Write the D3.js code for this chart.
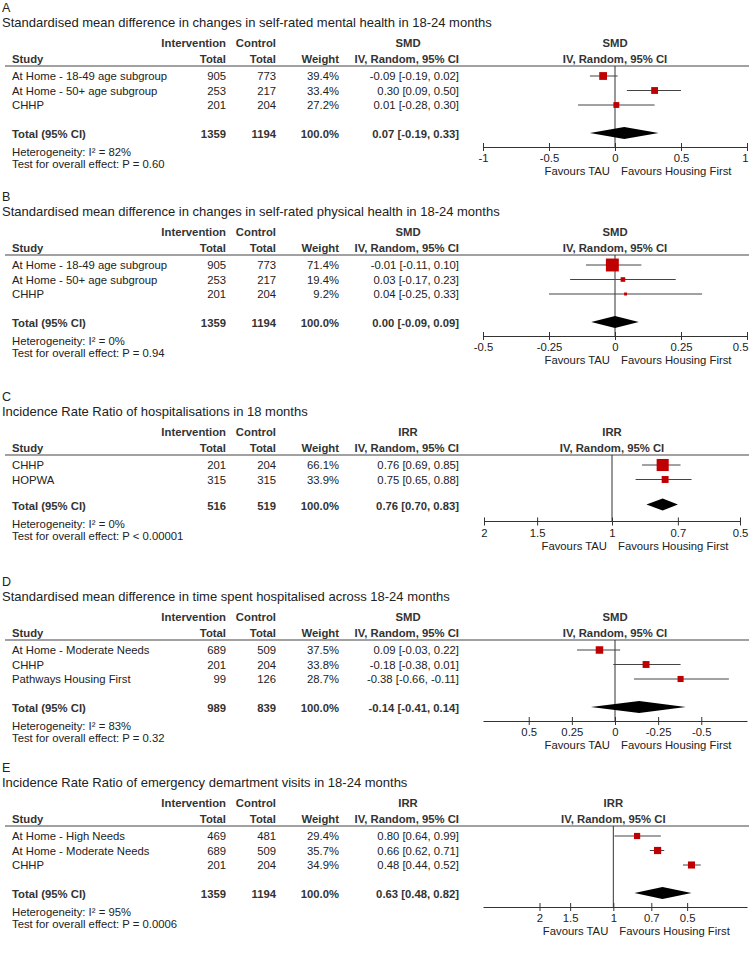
<!DOCTYPE html>
<html><head><meta charset="utf-8">
<script src="https://cdn.jsdelivr.net/npm/d3@7"></script>
<style>
body{margin:0;background:#fff;}
text{font-family:"Liberation Sans",Arial,sans-serif;fill:#222;}
</style>
</head><body>
<svg id="chart" width="749" height="954"></svg>
<script>
// ---------- data ----------
const panelLetters = ["A", "B", "C", "D", "E"];
const panelTitles = [
  "Standardised mean difference in changes in self-rated mental health in 18-24 months",
  "Standardised mean difference in changes in self-rated physical health in 18-24 months",
  "Incidence Rate Ratio of hospitalisations in 18 months",
  "Standardised mean difference in time spent hospitalised across 18-24 months",
  "Incidence Rate Ratio of emergency demartment visits in 18-24 months"
];
const effectNames = ["SMD", "SMD", "IRR", "SMD", "IRR"];

const studiesA = ["At Home - 18-49 age subgroup", "At Home - 50+ age subgroup", "CHHP"];
const intA = [905, 253, 201];
const ctlA = [773, 217, 204];
const weightA = [39.4, 33.4, 27.2];
const estA = [-0.09, 0.30, 0.01];
const loA = [-0.19, 0.09, -0.28];
const hiA = [0.02, 0.50, 0.30];

const studiesB = ["At Home - 18-49 age subgroup", "At Home - 50+ age subgroup", "CHHP"];
const intB = [905, 253, 201];
const ctlB = [773, 217, 204];
const weightB = [71.4, 19.4, 9.2];
const estB = [-0.01, 0.03, 0.04];
const loB = [-0.11, -0.17, -0.25];
const hiB = [0.10, 0.23, 0.33];

const studiesC = ["CHHP", "HOPWA"];
const intC = [201, 315];
const ctlC = [204, 315];
const weightC = [66.1, 33.9];
const estC = [0.76, 0.75];
const loC = [0.69, 0.65];
const hiC = [0.85, 0.88];

const studiesD = ["At Home - Moderate Needs", "CHHP", "Pathways Housing First"];
const intD = [689, 201, 99];
const ctlD = [509, 204, 126];
const weightD = [37.5, 33.8, 28.7];
const estD = [0.09, -0.18, -0.38];
const loD = [-0.03, -0.38, -0.66];
const hiD = [0.22, 0.01, -0.11];

const studiesE = ["At Home - High Needs", "At Home - Moderate Needs", "CHHP"];
const intE = [469, 689, 201];
const ctlE = [481, 509, 204];
const weightE = [29.4, 35.7, 34.9];
const estE = [0.80, 0.66, 0.48];
const loE = [0.64, 0.62, 0.44];
const hiE = [0.99, 0.71, 0.52];

const totalInt = [1359, 1359, 516, 989, 1359];
const totalCtl = [1194, 1194, 519, 839, 1194];
const totalEst = [0.07, 0.00, 0.76, -0.14, 0.63];
const totalLo = [-0.19, -0.09, 0.70, -0.41, 0.48];
const totalHi = [0.33, 0.09, 0.83, 0.14, 0.82];
const heterogeneity = ["82%", "0%", "0%", "83%", "95%"];
const overallP = ["P = 0.60", "P = 0.94", "P < 0.00001", "P = 0.32", "P = 0.0006"];

const ticksA = [-1, -0.5, 0, 0.5, 1];
const ticksB = [-0.5, -0.25, 0, 0.25, 0.5];
const ticksC = [2, 1.5, 1, 0.7, 0.5];
const ticksD = [0.5, 0.25, 0, -0.25, -0.5];
const ticksE = [2, 1.5, 1, 0.7, 0.5];

// ---------- layout ----------
const panelTop = [0, 189, 389, 574, 760];
const FS = 11.3;
const colStudy = 12, colInt = 226, colCtl = 276, colWt = 339, colCI = 459, colCIhead = 408;
const lineY = 66;
const W = 749;

const scales = [
  d3.scaleLinear().domain([-1, 1]).range([483, 747]),
  d3.scaleLinear().domain([-0.5, 0.5]).range([483, 747]),
  d3.scaleLog().domain([2, 0.5]).range([484, 740]),
  d3.scaleLinear().domain([0.765, -0.765]).range([483, 747]),
  d3.scaleLog().domain([3.4, 0.285]).range([483, 747])
];
const nullValue = [0, 0, 1, 0, 1];

const panels = [
  {studies: studiesA, int: intA, ctl: ctlA, w: weightA, est: estA, lo: loA, hi: hiA, ticks: ticksA},
  {studies: studiesB, int: intB, ctl: ctlB, w: weightB, est: estB, lo: loB, hi: hiB, ticks: ticksB},
  {studies: studiesC, int: intC, ctl: ctlC, w: weightC, est: estC, lo: loC, hi: hiC, ticks: ticksC},
  {studies: studiesD, int: intD, ctl: ctlD, w: weightD, est: estD, lo: loD, hi: hiD, ticks: ticksD},
  {studies: studiesE, int: intE, ctl: ctlE, w: weightE, est: estE, lo: loE, hi: hiE, ticks: ticksE}
];

const loc = d3.formatLocale({decimal: ".", thousands: ",", grouping: [3], currency: ["", ""], minus: "-"});
const f2 = loc.format(".2f");
const f1 = loc.format(".1f");
const ciText = (e, l, h) => `${f2(e)} [${f2(l)}, ${f2(h)}]`;

const rowY = d3.scaleLinear().domain([0, 1]).range([76, 90.5]);
const sqSize = d3.scaleLinear().domain([0, 100]).range([1.5, 17.5]);

const svg = d3.select("#chart");

panels.forEach((p, k) => {
  const g = svg.append("g").attr("transform", `translate(0,${panelTop[k]})`);
  const x = scales[k];
  const n = p.studies.length;
  const totalY = rowY(n - 1) + (n < 3 ? 26 : 29);
  const axisY = rowY(n - 1) + 42;
  const x0 = x(nullValue[k]);

  const txt = (s, xx, yy, anchor, bold, size) => g.append("text")
    .attr("x", xx).attr("y", yy).attr("text-anchor", anchor || "start")
    .attr("font-size", size || FS).attr("font-weight", bold ? "bold" : "normal")
    .style("fill", bold ? "#333" : "#222").text(s);

  txt(panelLetters[k], 2, 11.5, "start", false, 12.5);
  txt(panelTitles[k], 2, 26.5, "start", false, 13);

  // headers
  txt("Intervention", colInt, 47, "end", true);
  txt("Control", colCtl, 47, "end", true);
  txt(effectNames[k], colCIhead, 47, "middle", true);
  txt("Study", colStudy, 63, "start", true);
  txt("Total", colInt, 63, "end", true);
  txt("Total", colCtl, 63, "end", true);
  txt("Weight", colWt, 63, "end", true);
  txt("IV, Random, 95% CI", colCI, 63, "end", true);
  txt(effectNames[k], x0, 47, "middle", true);
  txt("IV, Random, 95% CI", x0, 63, "middle", true);

  g.append("line").attr("x1", 5).attr("x2", W).attr("y1", lineY).attr("y2", lineY)
    .attr("stroke", "#444").attr("stroke-width", 1.2);

  // study rows
  p.studies.forEach((s, i) => {
    const yb = rowY(i) + 4;
    txt(s, colStudy, yb);
    txt(String(p.int[i]), colInt, yb, "end");
    txt(String(p.ctl[i]), colCtl, yb, "end");
    txt(f1(p.w[i]) + "%", colWt, yb, "end");
    txt(ciText(p.est[i], p.lo[i], p.hi[i]), colCI, yb, "end");
  });

  // total row
  txt("Total (95% CI)", colStudy, totalY + 4, "start", true);
  txt(String(totalInt[k]), colInt, totalY + 4, "end", true);
  txt(String(totalCtl[k]), colCtl, totalY + 4, "end", true);
  txt("100.0%", colWt, totalY + 4, "end", true);
  txt(ciText(totalEst[k], totalLo[k], totalHi[k]), colCI, totalY + 4, "end", true);
  txt("Heterogeneity: I\u00B2 = " + heterogeneity[k], colStudy, totalY + 22);
  txt("Test for overall effect: " + overallP[k], colStudy, totalY + 34);

  // null line
  g.append("line").attr("x1", x0).attr("x2", x0).attr("y1", lineY).attr("y2", axisY)
    .attr("stroke", "#333").attr("stroke-width", 1);

  // CIs and squares
  const idx = d3.range(n);
  g.selectAll("line.ci").data(idx).join("line").attr("class", "ci")
    .attr("x1", i => x(p.lo[i])).attr("x2", i => x(p.hi[i]))
    .attr("y1", i => rowY(i)).attr("y2", i => rowY(i))
    .attr("stroke", "#444").attr("stroke-width", 1);
  g.selectAll("rect.sq").data(idx).join("rect").attr("class", "sq")
    .attr("x", i => x(p.est[i]) - sqSize(p.w[i]) / 2)
    .attr("y", i => rowY(i) - sqSize(p.w[i]) / 2)
    .attr("width", i => sqSize(p.w[i])).attr("height", i => sqSize(p.w[i]))
    .attr("fill", "#c00000");

  // diamond
  const dh = 6;
  const dy = totalY - 1;
  g.append("path")
    .attr("d", `M${x(totalLo[k])},${dy}L${x(totalEst[k])},${dy - dh}L${x(totalHi[k])},${dy}L${x(totalEst[k])},${dy + dh}Z`)
    .attr("fill", "#000");

  // axis
  const axis = d3.axisBottom(x).tickValues(p.ticks).tickSizeOuter(0).tickSizeInner(4)
    .tickFormat(v => String(v));
  const ag = g.append("g").attr("transform", `translate(0,${axisY})`).call(axis);
  ag.select(".domain").attr("stroke", "#333");
  ag.selectAll(".tick line").attr("y1", -4).attr("y2", 4).attr("stroke", "#333");
  ag.selectAll(".tick text").attr("y", 15).attr("dy", null)
    .attr("font-size", FS).attr("font-family", "Liberation Sans, Arial, sans-serif").style("fill", "#222")
    .each(function(v) {
      const px = x(v);
      const t = d3.select(this);
      if (px > W - 6) t.attr("text-anchor", "end").attr("x", W - 1 - px);
      if (px < 6) t.attr("text-anchor", "start").attr("x", 1 - px);
    });
  if (k === 2) {
    ag.select(".domain").attr("d", `M${x(2)},0H${x(0.5)}`);
  }

  txt("Favours TAU", x0 - 5, axisY + 28, "end");
  txt("Favours Housing First", x0 + 6, axisY + 28, "start");
});
</script>
</body></html>
